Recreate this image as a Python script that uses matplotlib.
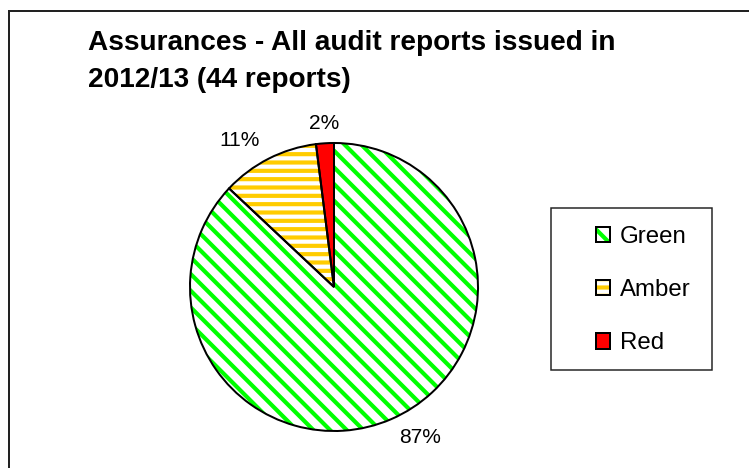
import matplotlib.pyplot as plt
from matplotlib.patches import Patch, Rectangle

plt.rcParams['font.family'] = ['Liberation Sans', 'DejaVu Sans']

categories = ["Green", "Amber", "Red"]
shares = [87, 11, 2]
pct_labels = ["87%", "11%", "2%"]

stripe_colors = ["#00FF00", "#FFCC00", "#FF0000"]
hatches = ["\\\\", "--", None]
fills = ["white", "white", "#FF0000"]

DPI = 100
W, H = 749, 468


def pt(px):
    # pixel size -> points at the output dpi
    return px * 72 / DPI


plt.rcParams['hatch.linewidth'] = 3.0

fig = plt.figure(figsize=(W / DPI, H / DPI), dpi=DPI)

# outer chart border (runs off the right and bottom edges)
fig.patches.append(Rectangle((9 / W, -0.1), 1.2, 1 - 11 / H + 0.1,
                             transform=fig.transFigure, fill=False,
                             edgecolor="#222222", linewidth=pt(2)))

fig.text(88 / W, 1 - 30 / H,
         "Assurances - All audit reports issued in\n2012/13 (44 reports)",
         ha="left", va="top", fontsize=pt(28), fontweight="bold",
         linespacing=1.55)

cx, cy, r = 334, 287, 144
ax = fig.add_axes([(cx - r) / W, (H - cy - r) / H, 2 * r / W, 2 * r / H])

# hatched fill
wedges, _ = ax.pie(shares, colors=fills, startangle=90, counterclock=False,
                   wedgeprops=dict(linewidth=0))
for w, col, h in zip(wedges, stripe_colors, hatches):
    if h:
        w.set_edgecolor(col)
        w.set_hatch(h)

# outlines and labels
texts = ax.pie(shares, labels=pct_labels, colors=["none"] * 3, startangle=90,
               counterclock=False, labeldistance=1.14,
               wedgeprops=dict(linewidth=pt(2), edgecolor="black", fill=False),
               textprops=dict(fontsize=pt(21)))[1]
texts[2].set_horizontalalignment("center")
ax.set_xlim(-1, 1)
ax.set_ylim(-1, 1)

# legend box
fig.patches.append(Rectangle((551 / W, 1 - 370 / H), 161 / W, 162 / H,
                             transform=fig.transFigure, fill=False,
                             edgecolor="#222222", linewidth=pt(1.5)))

handles = []
for col, h, f in zip(stripe_colors, hatches, fills):
    inner = Patch(facecolor=f, edgecolor=col, hatch=h, linewidth=0)
    outer = Patch(facecolor="none", edgecolor="black", linewidth=pt(2))
    handles.append((inner, outer))

fig.legend(handles, categories, loc="upper left",
           bbox_to_anchor=(596 / W, 1 - 226 / H), frameon=False,
           fontsize=pt(24), handlelength=0.6, handleheight=0.6,
           handletextpad=0.4, labelspacing=1.3, borderpad=0,
           borderaxespad=0)

fig.savefig("out.png", dpi=DPI)
